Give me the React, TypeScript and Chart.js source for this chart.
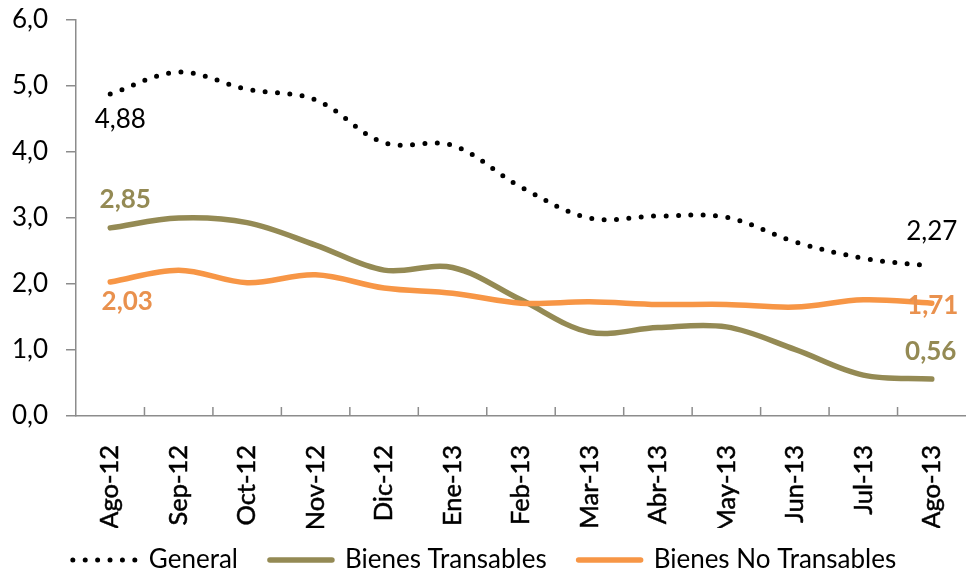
import React, { useEffect, useRef } from 'react';
import { Chart, registerables } from 'chart.js';
Chart.register(...registerables);

const categories = ['Ago-12', 'Sep-12', 'Oct-12', 'Nov-12', 'Dic-12', 'Ene-13', 'Feb-13', 'Mar-13', 'Abr-13', 'May-13', 'Jun-13', 'Jul-13', 'Ago-13'];
const general = [4.88, 5.21, 4.95, 4.79, 4.14, 4.1, 3.47, 3.0, 3.03, 3.01, 2.64, 2.39, 2.27];
const transables = [2.85, 3.0, 2.93, 2.59, 2.21, 2.25, 1.76, 1.27, 1.34, 1.35, 1.01, 0.62, 0.56];
const noTransables = [2.03, 2.21, 2.02, 2.14, 1.94, 1.86, 1.71, 1.73, 1.69, 1.69, 1.65, 1.76, 1.71];
const seriesNames = ['General', 'Bienes Transables', 'Bienes No Transables'];
const yTickLabels = ['0,0', '1,0', '2,0', '3,0', '4,0', '5,0', '6,0'];

const BLACK = '#000000';
const OLIVE = '#948A54';
const ORANGE = '#F79646';
const ORANGE_LABEL = '#E9914E';
const AXIS = '#8C8C8C';
const FONT = 'Lato';

const fmt = (v: number) => v.toFixed(2).replace('.', ',');

const innerTicksPlugin = {
  id: 'innerTicks',
  afterDraw(chart: any) {
    const ctx = chart.ctx;
    const x = chart.scales.x;
    const bottom = chart.chartArea.bottom;
    ctx.save();
    ctx.strokeStyle = AXIS;
    ctx.lineWidth = 1.5;
    for (let i = 1; i < categories.length; i++) {
      const px = (x.getPixelForTick(i - 1) + x.getPixelForTick(i)) / 2;
      ctx.beginPath();
      ctx.moveTo(px, bottom);
      ctx.lineTo(px, bottom - 9);
      ctx.stroke();
    }
    ctx.restore();
  },
};

const dataLabelsPlugin = {
  id: 'endLabels',
  afterDatasetsDraw(chart: any) {
    const ctx = chart.ctx;
    const last = categories.length - 1;
    const specs = [
      { ds: 0, i: 0, dx: 10, dy: 26, color: BLACK, bold: false },
      { ds: 0, i: last, dx: 0, dy: -35, color: BLACK, bold: false },
      { ds: 1, i: 0, dx: 15, dy: -28, color: OLIVE, bold: true },
      { ds: 1, i: last, dx: -1, dy: -27, color: OLIVE, bold: true },
      { ds: 2, i: 0, dx: 17, dy: 20, color: ORANGE_LABEL, bold: true },
      { ds: 2, i: last, dx: 1, dy: 2, color: ORANGE_LABEL, bold: true },
    ];
    ctx.save();
    ctx.textAlign = 'center';
    ctx.textBaseline = 'middle';
    for (const s of specs) {
      const pt = chart.getDatasetMeta(s.ds).data[s.i];
      const v = chart.data.datasets[s.ds].data[s.i] as number;
      ctx.font = `${s.bold ? 'bold ' : ''}26px ${FONT}`;
      ctx.fillStyle = s.color;
      ctx.fillText(fmt(v), pt.x + s.dx, pt.y + s.dy);
    }
    ctx.restore();
  },
};

const legendPlugin = {
  id: 'customLegend',
  afterDraw(chart: any) {
    const ctx = chart.ctx;
    const sample = 70;
    const gap = 9;
    const between = 28;
    const y = chart.height - 13;
    ctx.save();
    ctx.font = `26px ${FONT}`;
    const ds = chart.data.datasets;
    const widths = ds.map((d: any) => ctx.measureText(d.label).width);
    const total = widths.reduce((a: number, w: number) => a + sample + gap + w, 0) + between * (ds.length - 1);
    let x = (chart.width - total) / 2;
    ds.forEach((d: any, k: number) => {
      ctx.beginPath();
      ctx.strokeStyle = d.borderColor;
      ctx.lineWidth = d.borderWidth;
      ctx.lineCap = 'round';
      ctx.setLineDash(d.borderDash || []);
      const off = d.borderDash && d.borderDash.length ? 3 : 4;
      ctx.moveTo(x + off, y);
      ctx.lineTo(x + sample - off, y);
      ctx.stroke();
      ctx.setLineDash([]);
      ctx.fillStyle = BLACK;
      ctx.textAlign = 'left';
      ctx.textBaseline = 'middle';
      ctx.fillText(d.label, x + sample + gap, y);
      x += sample + gap + widths[k] + between;
    });
    ctx.restore();
  },
};

export default function App() {
  const ref = useRef<HTMLCanvasElement | null>(null);
  useEffect(() => {
    if (!ref.current) return;
    Chart.defaults.font.family = FONT;
    const chart = new Chart(ref.current, {
      type: 'line',
      data: {
        labels: categories,
        datasets: [
          {
            label: seriesNames[0],
            data: general,
            borderColor: BLACK,
            borderWidth: 5,
            borderDash: [0, 12.4],
            borderCapStyle: 'round',
            pointRadius: 0,
            tension: 0.35,
            fill: false,
            order: 0,
          },
          {
            label: seriesNames[1],
            data: transables,
            borderColor: OLIVE,
            borderWidth: 5.5,
            borderCapStyle: 'round',
            pointRadius: 0,
            tension: 0.35,
            fill: false,
            order: 2,
          },
          {
            label: seriesNames[2],
            data: noTransables,
            borderColor: ORANGE,
            borderWidth: 5.5,
            borderCapStyle: 'round',
            pointRadius: 0,
            tension: 0.35,
            fill: false,
            order: 1,
          },
        ],
      },
      options: {
        animation: false,
        responsive: false,
        layout: { padding: { top: 20, right: 0, bottom: 45, left: 0 } },
        plugins: {
          legend: { display: false },
          tooltip: { enabled: false },
        },
        scales: {
          x: {
            offset: true,
            grid: {
              display: true,
              drawOnChartArea: false,
              drawTicks: true,
              tickLength: 29,
              tickColor: 'rgba(0,0,0,0)',
              offset: true,
            },
            border: { display: true, color: AXIS, width: 1.5 },
            ticks: {
              minRotation: 90,
              maxRotation: 90,
              padding: 0,
              autoSkip: false,
              color: BLACK,
              textStrokeColor: BLACK,
              textStrokeWidth: 0.5,
              font: { family: FONT, size: 25.5 },
            },
            afterFit: (scale: any) => {
              scale.height = 112;
              scale.paddingLeft = 0;
              scale.paddingRight = 0;
            },
          },
          y: {
            min: 0,
            max: 6,
            ticks: {
              stepSize: 1,
              padding: 18,
              color: BLACK,
              font: { family: FONT, size: 26 },
              callback: (_v: any, idx: number) => yTickLabels[idx],
            },
            grid: {
              display: true,
              drawOnChartArea: false,
              drawTicks: true,
              tickLength: 10,
              tickColor: AXIS,
              lineWidth: 1.5,
            },
            border: { display: true, color: AXIS, width: 1.5 },
            afterFit: (scale: any) => {
              scale.width = 76;
              scale.paddingTop = 0;
              scale.paddingBottom = 0;
            },
          },
        },
      },
      plugins: [innerTicksPlugin, dataLabelsPlugin, legendPlugin],
    } as any);
    return () => chart.destroy();
  }, []);
  return (
    <div style={{ position: 'fixed', left: 0, top: 0, width: 966, height: 573, background: '#ffffff' }}>
      <canvas ref={ref} width={966} height={573} style={{ display: 'block' }} />
    </div>
  );
}
